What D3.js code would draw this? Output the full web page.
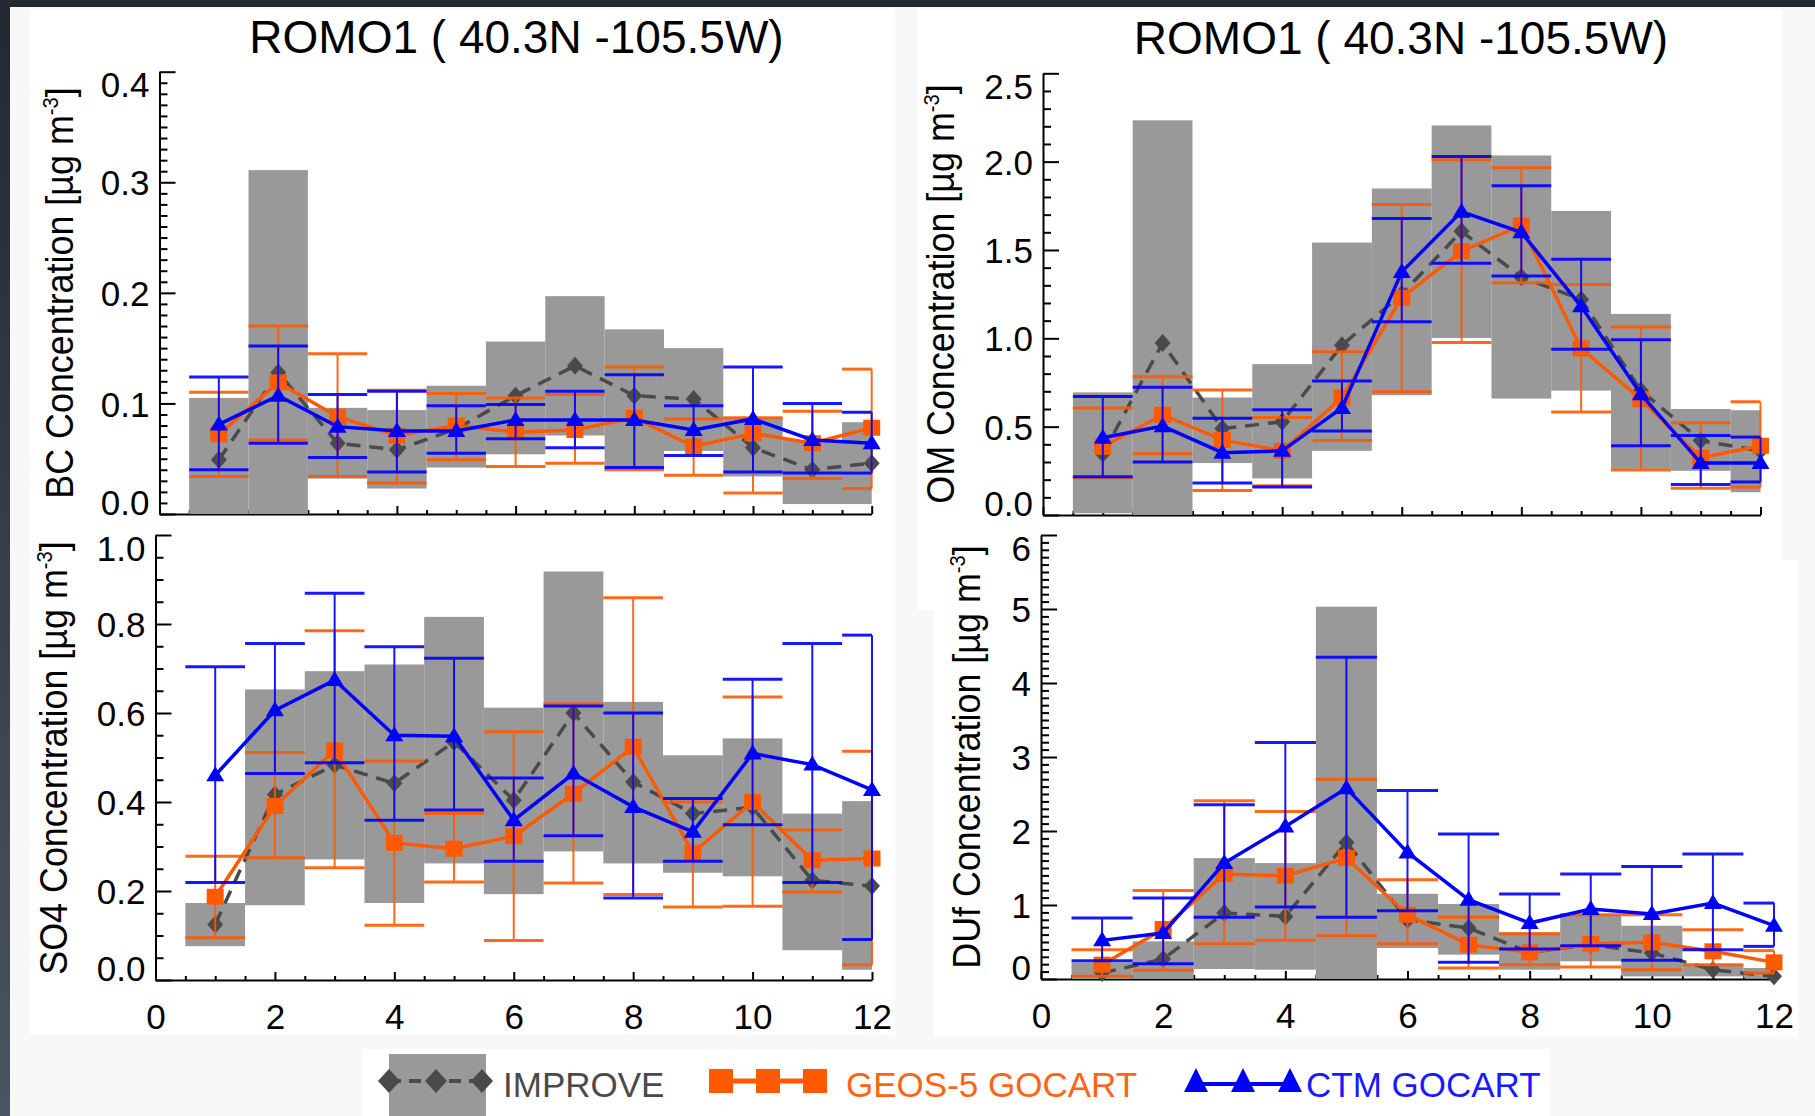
<!DOCTYPE html>
<html>
<head>
<meta charset="utf-8">
<script src="https://cdn.jsdelivr.net/npm/d3@7"></script>
<style>
  html, body { margin: 0; padding: 0; background: #f8f8f8; }
  svg { display: block; }
</style>
</head>
<body>
<div id="chart"></div>
<script>
const FONT = '"Liberation Sans", Arial, Helvetica, sans-serif';

// months and labels
const months = [1, 2, 3, 4, 5, 6, 7, 8, 9, 10, 11, 12];
const xTickValues = [0, 2, 4, 6, 8, 10, 12];
const siteTitle = 'ROMO1 ( 40.3N -105.5W)';
const seriesNames = ['IMPROVE', 'GEOS-5 GOCART', 'CTM GOCART'];

// BC
const bcImproveLow  = [0.0, 0.0, 0.032, 0.023, 0.042, 0.054, 0.071, 0.040, 0.057, 0.034, 0.009, 0.009];
const bcImproveHigh = [0.105, 0.311, 0.096, 0.094, 0.116, 0.156, 0.197, 0.167, 0.150, 0.087, 0.067, 0.083];
const bcImprove     = [0.049, 0.128, 0.064, 0.058, 0.077, 0.107, 0.134, 0.107, 0.104, 0.060, 0.040, 0.046];
const bcGeos        = [0.072, 0.119, 0.088, 0.071, 0.080, 0.074, 0.076, 0.087, 0.061, 0.073, 0.064, 0.078];
const bcGeosLow     = [0.034, 0.067, 0.034, 0.028, 0.049, 0.043, 0.046, 0.040, 0.035, 0.019, 0.032, 0.023];
const bcGeosHigh    = [0.110, 0.170, 0.145, 0.112, 0.109, 0.105, 0.108, 0.133, 0.086, 0.087, 0.093, 0.131];
const bcCtm         = [0.081, 0.107, 0.079, 0.075, 0.075, 0.085, 0.085, 0.085, 0.076, 0.086, 0.067, 0.064];
const bcCtmLow      = [0.040, 0.064, 0.051, 0.038, 0.055, 0.068, 0.060, 0.042, 0.053, 0.038, 0.037, 0.037];
const bcCtmHigh     = [0.124, 0.152, 0.108, 0.111, 0.098, 0.099, 0.111, 0.126, 0.098, 0.133, 0.100, 0.092];

// OM
const omImproveLow  = [0.01, 0.0, 0.294, 0.207, 0.363, 0.678, 1.002, 0.659, 0.704, 0.261, 0.250, 0.129];
const omImproveHigh = [0.694, 2.234, 0.665, 0.854, 1.542, 1.848, 2.205, 2.035, 1.721, 1.138, 0.600, 0.593];
const omImprove     = [0.347, 0.973, 0.489, 0.528, 0.961, 1.25, 1.606, 1.347, 1.220, 0.704, 0.421, 0.363];
const omGeos        = [0.386, 0.567, 0.425, 0.363, 0.665, 1.230, 1.493, 1.639, 0.943, 0.655, 0.324, 0.392];
const omGeosLow     = [0.211, 0.347, 0.138, 0.165, 0.421, 0.698, 0.977, 1.314, 0.583, 0.255, 0.152, 0.158];
const omGeosHigh    = [0.606, 0.782, 0.708, 0.552, 0.924, 1.758, 2.010, 1.965, 1.304, 1.064, 0.522, 0.641];
const omCtm         = [0.437, 0.503, 0.353, 0.363, 0.606, 1.376, 1.717, 1.600, 1.181, 0.684, 0.294, 0.294];
const omCtmLow      = [0.216, 0.300, 0.181, 0.158, 0.476, 1.094, 1.425, 1.353, 0.938, 0.392, 0.172, 0.187];
const omCtmHigh     = [0.671, 0.723, 0.548, 0.596, 0.758, 1.678, 2.029, 1.864, 1.448, 0.992, 0.450, 0.441];

// SO4
const so4ImproveLow  = [0.076, 0.168, 0.271, 0.173, 0.262, 0.193, 0.289, 0.262, 0.241, 0.233, 0.067, 0.023];
const so4ImproveHigh = [0.173, 0.653, 0.694, 0.709, 0.816, 0.612, 0.918, 0.625, 0.505, 0.543, 0.374, 0.402];
const so4Improve     = [0.125, 0.417, 0.483, 0.442, 0.535, 0.404, 0.600, 0.445, 0.374, 0.388, 0.224, 0.211];
const so4Geos        = [0.187, 0.391, 0.516, 0.308, 0.295, 0.323, 0.419, 0.524, 0.286, 0.400, 0.269, 0.273];
const so4GeosLow     = [0.095, 0.275, 0.252, 0.123, 0.220, 0.089, 0.218, 0.192, 0.164, 0.166, 0.198, 0.034];
const so4GeosHigh    = [0.278, 0.511, 0.785, 0.492, 0.374, 0.558, 0.621, 0.859, 0.400, 0.636, 0.337, 0.514];
const so4Ctm         = [0.460, 0.606, 0.674, 0.550, 0.548, 0.359, 0.464, 0.389, 0.333, 0.509, 0.484, 0.427];
const so4CtmLow      = [0.219, 0.464, 0.488, 0.359, 0.382, 0.267, 0.324, 0.184, 0.267, 0.349, 0.219, 0.091];
const so4CtmHigh     = [0.704, 0.756, 0.869, 0.749, 0.723, 0.454, 0.616, 0.600, 0.408, 0.676, 0.756, 0.775];

// DUf
const dufImproveLow  = [0.0, 0.0, 0.135, 0.126, 0.0, 0.419, 0.329, 0.126, 0.239, 0.036, 0.036, 0.014];
const dufImproveHigh = [0.225, 0.509, 1.634, 1.566, 5.031, 1.152, 1.013, 0.630, 0.869, 0.720, 0.194, 0.149];
const dufImprove     = [0.081, 0.270, 0.891, 0.846, 1.845, 0.801, 0.689, 0.360, 0.464, 0.351, 0.126, 0.036];
const dufGeos        = [0.194, 0.675, 1.418, 1.395, 1.634, 0.869, 0.464, 0.360, 0.477, 0.495, 0.374, 0.225];
const dufGeosLow     = [0.036, 0.117, 0.477, 0.522, 0.585, 0.477, 0.149, 0.194, 0.162, 0.126, 0.194, 0.081];
const dufGeosHigh    = [0.396, 1.197, 2.408, 2.264, 2.700, 1.341, 0.833, 0.612, 0.869, 0.869, 0.666, 0.383];
const dufCtm         = [0.522, 0.621, 1.566, 2.061, 2.579, 1.710, 1.071, 0.756, 0.945, 0.878, 1.026, 0.720];
const dufCtmLow      = [0.248, 0.207, 0.833, 0.972, 0.833, 0.923, 0.225, 0.405, 0.450, 0.252, 0.396, 0.441];
const dufCtmHigh     = [0.824, 1.094, 2.354, 3.195, 4.347, 2.547, 1.958, 1.148, 1.418, 1.521, 1.688, 1.026];

const COLORS = { box: '#999999', improve: '#4a4a4a', geos: '#ff5a00', ctm: '#0000ff' };

// 面板布局
const panels = [
    { name: 'BC', yMax: 0.4, major: 0.1, minor: 0.01, fmt: '.1f', xr: [159.5, 871.7], yr: [514, 71.7],
      title: [516.5, 53.4], yTitle: [72.5, 293], xLabels: false,
      lo: bcImproveLow, hi: bcImproveHigh, imp: bcImprove,
      geos: bcGeos, geosLo: bcGeosLow, geosHi: bcGeosHigh, ctm: bcCtm, ctmLo: bcCtmLow, ctmHi: bcCtmHigh },
    { name: 'OM', yMax: 2.5, major: 0.5, minor: 0.1, fmt: '.1f', xr: [1043, 1760.5], yr: [515, 73.3],
      title: [1401, 54.4], yTitle: [954, 294], xLabels: false,
      lo: omImproveLow, hi: omImproveHigh, imp: omImprove,
      geos: omGeos, geosLo: omGeosLow, geosHi: omGeosHigh, ctm: omCtm, ctmLo: omCtmLow, ctmHi: omCtmHigh },
    { name: 'SO4', yMax: 1.0, major: 0.2, minor: 0.05, fmt: '.1f', xr: [155.5, 872], yr: [980, 535],
      title: null, yTitle: [67, 758], xLabels: true,
      lo: so4ImproveLow, hi: so4ImproveHigh, imp: so4Improve,
      geos: so4Geos, geosLo: so4GeosLow, geosHi: so4GeosHigh, ctm: so4Ctm, ctmLo: so4CtmLow, ctmHi: so4CtmHigh },
    { name: 'DUf', yMax: 6, major: 1, minor: 0.1, fmt: 'd', xr: [1041, 1774], yr: [979, 535],
      title: null, yTitle: [980, 757], xLabels: true,
      lo: dufImproveLow, hi: dufImproveHigh, imp: dufImprove,
      geos: dufGeos, geosLo: dufGeosLow, geosHi: dufGeosHigh, ctm: dufCtm, ctmLo: dufCtmLow, ctmHi: dufCtmHigh }
];

const svg = d3.select('#chart').append('svg')
    .attr('width', 1815)
    .attr('height', 1116)
    .attr('font-family', FONT);

// 背景和边框
const grad = svg.append('defs').append('linearGradient')
    .attr('id', 'edge').attr('x1', 0).attr('y1', 0).attr('x2', 0).attr('y2', 1);
grad.append('stop').attr('offset', '0%').attr('stop-color', '#232831');
grad.append('stop').attr('offset', '100%').attr('stop-color', '#4a5460');

svg.append('rect').attr('width', 1815).attr('height', 1116).attr('fill', '#f8f8f8');
svg.append('rect').attr('x', 30).attr('y', 9).attr('width', 865).attr('height', 1026).attr('fill', '#fff');
svg.append('rect').attr('x', 917).attr('y', 10).attr('width', 865).attr('height', 600).attr('fill', '#fff');
svg.append('rect').attr('x', 934).attr('y', 560).attr('width', 864).attr('height', 476).attr('fill', '#fff');
svg.append('rect').attr('x', 362).attr('y', 1049).attr('width', 1188).attr('height', 67).attr('fill', '#fff');
svg.append('rect').attr('x', 0).attr('y', 0).attr('width', 10).attr('height', 1116).attr('fill', 'url(#edge)');
svg.append('rect').attr('x', 0).attr('y', 0).attr('width', 1815).attr('height', 7).attr('fill', '#232831');

const diamondPath = 'M0,-9L8,0L0,9L-8,0Z';
const trianglePath = 'M0,-9L9,6L-9,6Z';

function ticksOf(max, step) {
    const n = Math.round(max / step);
    return d3.range(n + 1).map(i => +(i * step).toFixed(4));
}

function drawPanel(p) {
    const x = d3.scaleLinear().domain([0, 12]).range(p.xr);
    const y = d3.scaleLinear().domain([0, p.yMax]).range(p.yr);
    const g = svg.append('g');

    // y 轴刻度
    const majorY = ticksOf(p.yMax, p.major);
    const minorY = ticksOf(p.yMax, p.minor).filter(v => !majorY.some(m => Math.abs(m - v) < 1e-6));

    g.append('g')
        .attr('transform', `translate(${p.xr[0]},0)`)
        .call(d3.axisLeft(y).tickValues(minorY).tickSize(-8).tickFormat(''))
        .call(a => a.select('.domain').remove())
        .selectAll('line').attr('stroke-width', 2);

    const ya = g.append('g')
        .attr('transform', `translate(${p.xr[0]},0)`)
        .call(d3.axisLeft(y).tickValues(majorY).tickSizeInner(-16).tickSizeOuter(0)
            .tickPadding(10).tickFormat(d3.format(p.fmt)));
    ya.attr('font-size', 35).attr('font-family', FONT);
    ya.selectAll('line, path').attr('stroke-width', 2);
    ya.selectAll('text')
        .attr('fill', '#000')
        .attr('dy', d => d === 0 ? '0em' : (Math.abs(d - p.yMax) < 1e-6 ? '0.72em' : '0.36em'));

    // x 轴刻度
    const minorX = d3.range(1, 25).map(i => i * 0.5).filter(v => v % 2 !== 0);
    g.append('g')
        .attr('transform', `translate(0,${p.yr[0]})`)
        .call(d3.axisBottom(x).tickValues(minorX).tickSize(-4).tickFormat(''))
        .call(a => a.select('.domain').remove())
        .selectAll('line').attr('stroke-width', 2);

    const xa = g.append('g')
        .attr('transform', `translate(0,${p.yr[0]})`)
        .call(d3.axisBottom(x).tickValues(xTickValues).tickSizeInner(-8).tickSizeOuter(0)
            .tickPadding(24).tickFormat(p.xLabels ? d3.format('d') : ''));
    xa.attr('font-size', 35).attr('font-family', FONT);
    xa.selectAll('line, path').attr('stroke-width', 2);
    xa.selectAll('text').attr('fill', '#000');

    // IMPROVE 灰色区间
    g.append('g').selectAll('rect')
        .data(months)
        .join('rect')
        .attr('x', (m) => x(m - 0.5))
        .attr('width', (m) => x(Math.min(m + 0.5, 12)) - x(m - 0.5))
        .attr('y', (m, i) => y(p.hi[i]))
        .attr('height', (m, i) => y(p.lo[i]) - y(p.hi[i]))
        .attr('fill', COLORS.box);

    // IMPROVE 虚线 + 菱形
    const line = d3.line().x(d => x(d[0])).y(d => y(d[1]));
    g.append('path')
        .attr('d', line(months.map((m, i) => [m, p.imp[i]])))
        .attr('fill', 'none')
        .attr('stroke', COLORS.improve)
        .attr('stroke-width', 3.5)
        .attr('stroke-dasharray', '14,9');
    g.append('g').selectAll('path')
        .data(months)
        .join('path')
        .attr('d', diamondPath)
        .attr('transform', (m, i) => `translate(${x(m)},${y(p.imp[i])})`)
        .attr('fill', COLORS.improve);

    // 模式误差棒
    function errorBars(lo, hi, color) {
        const eg = g.append('g').attr('stroke', color).attr('opacity', 0.9);
        months.forEach((m, i) => {
            eg.append('line')
                .attr('x1', x(m)).attr('x2', x(m))
                .attr('y1', y(lo[i])).attr('y2', y(hi[i]))
                .attr('stroke-width', 2);
            [lo[i], hi[i]].forEach(v => {
                eg.append('line')
                    .attr('x1', x(m - 0.5)).attr('x2', x(Math.min(m + 0.5, 12)))
                    .attr('y1', y(v)).attr('y2', y(v))
                    .attr('stroke-width', 3);
            });
        });
    }

    errorBars(p.geosLo, p.geosHi, COLORS.geos);
    g.append('path')
        .attr('d', line(months.map((m, i) => [m, p.geos[i]])))
        .attr('fill', 'none')
        .attr('stroke', COLORS.geos)
        .attr('stroke-width', 3.5);
    g.append('g').selectAll('rect')
        .data(months)
        .join('rect')
        .attr('x', m => x(m) - 8.5)
        .attr('y', (m, i) => y(p.geos[i]) - 8)
        .attr('width', 17)
        .attr('height', 16)
        .attr('fill', COLORS.geos);

    errorBars(p.ctmLo, p.ctmHi, COLORS.ctm);
    g.append('path')
        .attr('d', line(months.map((m, i) => [m, p.ctm[i]])))
        .attr('fill', 'none')
        .attr('stroke', COLORS.ctm)
        .attr('stroke-width', 3.5);
    g.append('g').selectAll('path')
        .data(months)
        .join('path')
        .attr('d', trianglePath)
        .attr('transform', (m, i) => `translate(${x(m)},${y(p.ctm[i])})`)
        .attr('fill', COLORS.ctm);

    // 标题
    if (p.title) {
        g.append('text')
            .attr('x', p.title[0])
            .attr('y', p.title[1])
            .attr('text-anchor', 'middle')
            .attr('font-size', 46)
            .attr('fill', '#000')
            .text(siteTitle);
    }

    // y 轴标题
    const yt = g.append('text')
        .attr('transform', `translate(${p.yTitle[0]},${p.yTitle[1]}) rotate(-90) scale(0.92,1)`)
        .attr('text-anchor', 'middle')
        .attr('font-size', 39)
        .attr('fill', '#000');
    yt.append('tspan').text(`${p.name} Concentration [\u00b5g m`);
    yt.append('tspan').attr('dy', -15).attr('font-size', 22).text('-3');
    yt.append('tspan').attr('dy', 15).text(']');
}

panels.forEach(drawPanel);

// 图例
const legend = svg.append('g');
const ly = 1081;

legend.append('rect')
    .attr('x', 389).attr('y', 1054).attr('width', 97).attr('height', 62)
    .attr('fill', COLORS.box);
legend.append('line')
    .attr('x1', 389).attr('x2', 482).attr('y1', ly).attr('y2', ly)
    .attr('stroke', COLORS.improve).attr('stroke-width', 4).attr('stroke-dasharray', '12,8');
[389, 436, 482].forEach(cx => {
    legend.append('path')
        .attr('d', 'M0,-12L11,0L0,12L-11,0Z')
        .attr('transform', `translate(${cx},${ly})`)
        .attr('fill', COLORS.improve);
});

legend.append('line')
    .attr('x1', 718).attr('x2', 818).attr('y1', ly).attr('y2', ly)
    .attr('stroke', COLORS.geos).attr('stroke-width', 5);
[721, 768, 815].forEach(cx => {
    legend.append('rect')
        .attr('x', cx - 12).attr('y', ly - 12).attr('width', 24).attr('height', 24)
        .attr('fill', COLORS.geos);
});

legend.append('line')
    .attr('x1', 1196).attr('x2', 1290).attr('y1', ly + 3).attr('y2', ly + 3)
    .attr('stroke', COLORS.ctm).attr('stroke-width', 4);
[1196, 1243, 1290].forEach(cx => {
    legend.append('path')
        .attr('d', 'M0,-13L12,11L-12,11Z')
        .attr('transform', `translate(${cx},${ly})`)
        .attr('fill', COLORS.ctm);
});

const legendText = [
    { x: 503, color: '#4a4a4a' },
    { x: 846, color: '#ff6414' },
    { x: 1306, color: '#1a1aff' }
];
seriesNames.forEach((name, i) => {
    legend.append('text')
        .attr('x', legendText[i].x)
        .attr('y', 1097)
        .attr('font-size', 35)
        .attr('fill', legendText[i].color)
        .text(name);
});
</script>
</body>
</html>
